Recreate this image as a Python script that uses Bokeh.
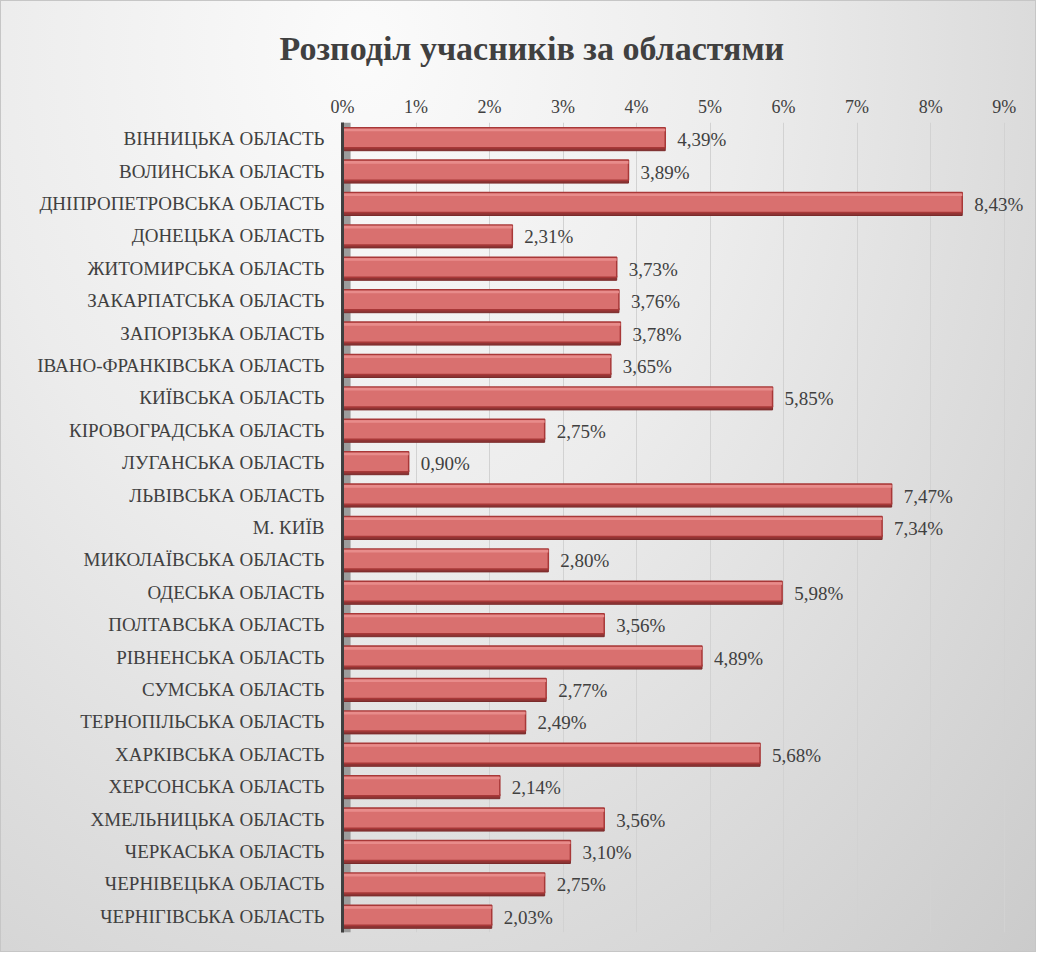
from bokeh.plotting import figure
from bokeh.models import FactorRange, Range1d, FixedTicker, ColumnDataSource, BoxAnnotation
from bokeh.transform import dodge
from bokeh.embed import file_html
from bokeh.resources import INLINE

regions = [
    "ВІННИЦЬКА ОБЛАСТЬ", "ВОЛИНСЬКА ОБЛАСТЬ", "ДНІПРОПЕТРОВСЬКА ОБЛАСТЬ",
    "ДОНЕЦЬКА ОБЛАСТЬ", "ЖИТОМИРСЬКА ОБЛАСТЬ", "ЗАКАРПАТСЬКА ОБЛАСТЬ",
    "ЗАПОРІЗЬКА ОБЛАСТЬ", "ІВАНО-ФРАНКІВСЬКА ОБЛАСТЬ", "КИЇВСЬКА ОБЛАСТЬ",
    "КІРОВОГРАДСЬКА ОБЛАСТЬ", "ЛУГАНСЬКА ОБЛАСТЬ", "ЛЬВІВСЬКА ОБЛАСТЬ",
    "М. КИЇВ", "МИКОЛАЇВСЬКА ОБЛАСТЬ", "ОДЕСЬКА ОБЛАСТЬ",
    "ПОЛТАВСЬКА ОБЛАСТЬ", "РІВНЕНСЬКА ОБЛАСТЬ", "СУМСЬКА ОБЛАСТЬ",
    "ТЕРНОПІЛЬСЬКА ОБЛАСТЬ", "ХАРКІВСЬКА ОБЛАСТЬ", "ХЕРСОНСЬКА ОБЛАСТЬ",
    "ХМЕЛЬНИЦЬКА ОБЛАСТЬ", "ЧЕРКАСЬКА ОБЛАСТЬ", "ЧЕРНІВЕЦЬКА ОБЛАСТЬ",
    "ЧЕРНІГІВСЬКА ОБЛАСТЬ",
]
shares = [4.39, 3.89, 8.43, 2.31, 3.73, 3.76, 3.78, 3.65, 5.85, 2.75, 0.90, 7.47,
          7.34, 2.80, 5.98, 3.56, 4.89, 2.77, 2.49, 5.68, 2.14, 3.56, 3.10, 2.75, 2.03]
tick_values = [0, 1, 2, 3, 4, 5, 6, 7, 8, 9]
tick_labels = [f"{t}%" for t in tick_values]
title_text = "Розподіл учасників за областями"

labels = [f"{v:.2f}".replace(".", ",") + "%" for v in shares]
src = ColumnDataSource(dict(region=regions, share=shares, label=labels))

FONT = "'Liberation Serif', 'Times New Roman', serif"
TXT = "#404040"

p = figure(width=1036, height=952,
           y_range=FactorRange(factors=list(reversed(regions)), range_padding=0),
           x_range=Range1d(0, 9.44), x_axis_location="above",
           output_backend="svg", toolbar_location=None,
           min_border_left=341, min_border_right=1,
           min_border_top=121, min_border_bottom=21)

p.styles = {"background": "radial-gradient(ellipse at 35% 5%, #fbfbfb 0%, #ececec 40%, #d6d6d6 80%, #cbcbcb 100%)",
            "border": "1px solid #c6c6c6"}
p.border_fill_color = None
p.background_fill_color = None
p.outline_line_color = None

p.title.text = title_text
p.title.text_font = FONT
p.title.text_font_size = "34px"
p.title.text_font_style = "bold"
p.title.text_color = TXT
p.title.align = "left"
p.title.offset = -63
p.title.vertical_align = "top"
p.title.standoff = 50

# 3D side wall next to the value axis
p.add_layout(BoxAnnotation(left=0, right=0.11, fill_color="#9c9c9c", fill_alpha=1,
                           line_color=None, level="underlay"))

# bottom (shadow) face
p.hbar(y=dodge("region", -0.3, range=p.y_range), right="share", left=0, height=0.14,
       source=src, fill_color="#8e3434", line_color="#7a2a2a", line_width=1)
# front face
p.hbar(y=dodge("region", 0.03, range=p.y_range), right="share", left=0, height=0.62,
       source=src, fill_color="#d9706f", line_color="#a83838", line_width=1.5)
# top highlight
p.hbar(y=dodge("region", 0.27, range=p.y_range), right="share", left=0, height=0.08,
       source=src, fill_color="#e88c8b", line_color=None)

p.text(x="share", y="region", text="label", source=src,
       x_offset=12, y_offset=1, text_font=dict(value=FONT), text_font_size="19px",
       text_color=TXT, text_baseline="middle", text_align="left")

xa = p.xaxis[0]
xa.ticker = FixedTicker(ticks=tick_values)
xa.major_label_overrides = {t: s for t, s in zip(tick_values, tick_labels)}
xa.major_label_text_font = FONT
xa.major_label_text_font_size = "18px"
xa.major_label_text_color = TXT
xa.major_tick_line_color = None
xa.minor_tick_line_color = None
xa.axis_line_color = None
xa.major_label_standoff = 0

ya = p.yaxis[0]
ya.major_label_text_font = FONT
ya.major_label_text_font_size = "19px"
ya.major_label_text_color = TXT
ya.major_tick_line_color = None
ya.minor_tick_line_color = None
ya.axis_line_color = "#404040"
ya.axis_line_width = 3
ya.major_label_standoff = 12

p.xgrid.grid_line_color = "#d2d2d2"
p.xgrid.grid_line_width = 1
p.ygrid.grid_line_color = None

open("out.html", "w").write(file_html(p, INLINE))
